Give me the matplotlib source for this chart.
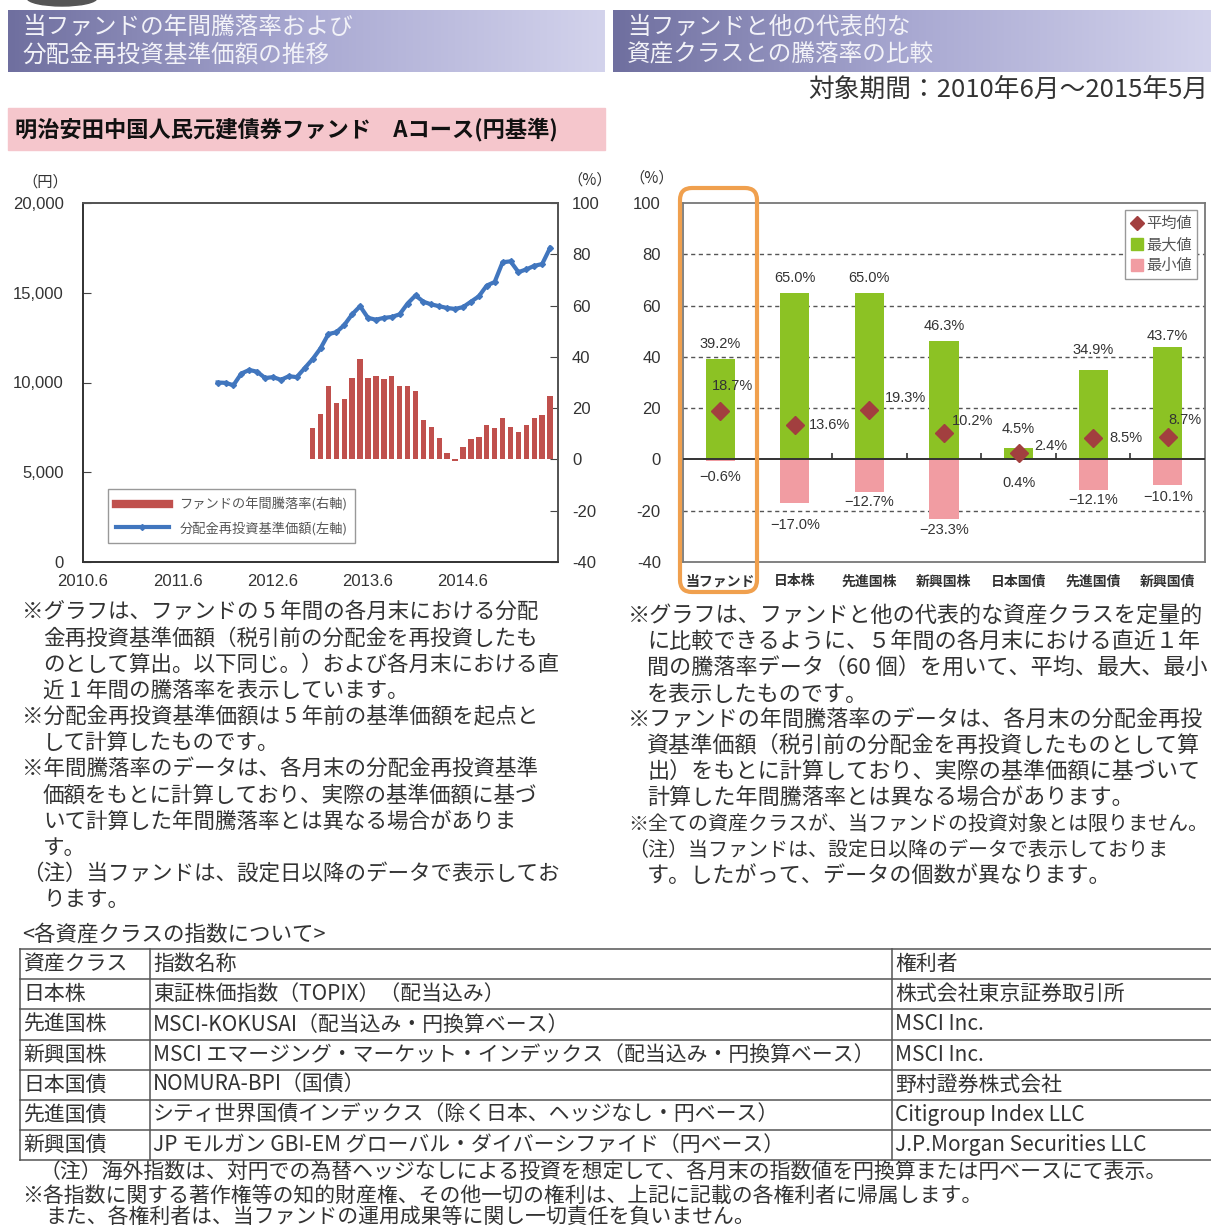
import numpy as np
import matplotlib
matplotlib.use('Agg')
from matplotlib import pyplot as plt
from matplotlib.lines import Line2D
from matplotlib.patches import Rectangle, FancyBboxPatch, Ellipse
from matplotlib.colors import LinearSegmentedColormap

plt.rcParams['font.family'] = ['Noto Sans CJK JP', 'DejaVu Sans']
NUM = ['Liberation Sans', 'Noto Sans CJK JP']

# --- 左チャート: 分配金再投資基準価額(円) 2011.11〜2015.5, 年間騰落率(%) 2012.11〜2015.5
nav_start = '2011.11'
nav_values = [10000, 9980, 9850, 10500, 10700, 10600, 10250, 10300, 10150, 10350,
              10300, 10800, 11300, 11900, 12700, 12800, 13200, 13800, 14250, 13600,
              13500, 13600, 13650, 13800, 14400, 14850, 14500, 14350, 14250, 14150,
              14100, 14200, 14500, 14800, 15400, 15600, 16700, 16750, 16150, 16300,
              16500, 16600, 17500]
ret_start = '2012.11'
ret_values = [12.2, 17.8, 28.5, 22.0, 23.5, 31.6, 39.2, 31.9, 32.4, 31.4,
              32.4, 28.5, 28.5, 26.5, 15.4, 12.8, 8.5, 2.6, -0.6, 5.0,
              8.0, 8.9, 13.3, 12.4, 16.0, 12.8, 10.8, 13.3, 16.0, 17.4, 24.6]
x_tick_labels = ['2010.6', '2011.6', '2012.6', '2013.6', '2014.6']
left_ticks = [0, 5000, 10000, 15000, 20000]
right_ticks = [-40, -20, 0, 20, 40, 60, 80, 100]

# --- 右チャート: 騰落率の比較
categories = ['当ファンド', '日本株', '先進国株', '新興国株', '日本国債', '先進国債', '新興国債']
mean_vals = [18.7, 13.6, 19.3, 10.2, 2.4, 8.5, 8.7]
max_vals = [39.2, 65.0, 65.0, 46.3, 4.5, 34.9, 43.7]
min_vals = [-0.6, -17.0, -12.7, -23.3, 0.4, -12.1, -10.1]

# ラベル位置の微調整(ピクセル)
mean_off = [(12, 25), (35, 0), (36, 12), (29, 12), (32, 7), (33, 0), (17, 17)]
max_off = [15, 15, 15, 15, 19, 20, 11]
min_off = [16, 22, 10, 11, 24, 10, 12]

# --- 表
table_rows = [
    ['資産クラス', '指数名称', '権利者'],
    ['日本株', '東証株価指数（TOPIX）（配当込み）', '株式会社東京証券取引所'],
    ['先進国株', 'MSCI-KOKUSAI（配当込み・円換算ベース）', 'MSCI Inc.'],
    ['新興国株', 'MSCI エマージング・マーケット・インデックス（配当込み・円換算ベース）', 'MSCI Inc.'],
    ['日本国債', 'NOMURA-BPI（国債）', '野村證券株式会社'],
    ['先進国債', 'シティ世界国債インデックス（除く日本、ヘッジなし・円ベース）', 'Citigroup Index LLC'],
    ['新興国債', 'JP モルガン GBI-EM グローバル・ダイバーシファイド（円ベース）', 'J.P.Morgan Securities LLC'],
]

left_notes = [
    '※グラフは、ファンドの 5 年間の各月末における分配',
    '金再投資基準価額（税引前の分配金を再投資したも',
    'のとして算出。以下同じ。）および各月末における直',
    '近 1 年間の騰落率を表示しています。',
    '※分配金再投資基準価額は 5 年前の基準価額を起点と',
    'して計算したものです。',
    '※年間騰落率のデータは、各月末の分配金再投資基準',
    '価額をもとに計算しており、実際の基準価額に基づ',
    'いて計算した年間騰落率とは異なる場合がありま',
    'す。',
    '（注）当ファンドは、設定日以降のデータで表示してお',
    'ります。',
]
right_notes = [
    '※グラフは、ファンドと他の代表的な資産クラスを定量的',
    'に比較できるように、５年間の各月末における直近１年',
    '間の騰落率データ（60 個）を用いて、平均、最大、最小',
    'を表示したものです。',
    '※ファンドの年間騰落率のデータは、各月末の分配金再投',
    '資基準価額（税引前の分配金を再投資したものとして算',
    '出）をもとに計算しており、実際の基準価額に基づいて',
    '計算した年間騰落率とは異なる場合があります。',
    '※全ての資産クラスが、当ファンドの投資対象とは限りません。',
    '（注）当ファンドは、設定日以降のデータで表示しておりま',
    'す。したがって、データの個数が異なります。',
]
footer = [
    '（注）海外指数は、対円での為替ヘッジなしによる投資を想定して、各月末の指数値を円換算または円ベースにて表示。',
    '※各指数に関する著作権等の知的財産権、その他一切の権利は、上記に記載の各権利者に帰属します。',
    'また、各権利者は、当ファンドの運用成果等に関し一切責任を負いません。',
]


def month_index(label):
    y, m = map(int, label.split('.'))
    return (y - 2010) * 12 + m - 6


W, H = 1211, 1230
fig = plt.figure(figsize=(W / 100, H / 100), dpi=100)
fig.patch.set_facecolor('white')


def fbox(x0, y0, x1, y1):
    return [x0 / W, 1 - y1 / H, (x1 - x0) / W, (y1 - y0) / H]


TXT = '#333333'

# ===== 左チャート =====
ax1 = fig.add_axes(fbox(83, 203, 558, 562))
ax2 = ax1.twinx()
ax1.set_zorder(ax2.get_zorder() + 1)
ax1.patch.set_visible(False)

xr = month_index(ret_start) + np.arange(len(ret_values))
ax2.bar(xr, ret_values, width=0.68, color='#c0504d', zorder=2)
xn = month_index(nav_start) + np.arange(len(nav_values))
ax1.plot(xn, nav_values, color='#4176be', lw=3, marker='D', ms=3, zorder=3)

ax1.set_xlim(0, 60)
ax1.set_ylim(0, 20000)
ax2.set_ylim(-40, 100)
ax1.set_xticks([month_index(s) for s in x_tick_labels])
ax1.set_xticklabels(x_tick_labels, fontsize=12, family=NUM, color=TXT)
ax1.set_yticks(left_ticks)
ax1.set_yticklabels(['{:,}'.format(v) for v in left_ticks], fontsize=12, family=NUM, color=TXT)
ax2.set_yticks(right_ticks)
ax2.set_yticklabels([str(v) for v in right_ticks], fontsize=12, family=NUM, color=TXT)
ax1.tick_params(axis='x', length=0, pad=9)
ax1.tick_params(axis='y', direction='in', length=6, pad=14, color='#444')
ax2.tick_params(axis='y', direction='in', length=6, pad=10, color='#444')
for a in (ax1, ax2):
    for s in a.spines.values():
        s.set_color('#555555')
        s.set_linewidth(1.3)
ax1.spines['left'].set_color('#333333')
ax1.spines['bottom'].set_color('#333333')

leg_handles = [Line2D([], [], color='#c0504d', lw=6),
               Line2D([], [], color='#4176be', lw=3, marker='D', ms=3)]
leg1 = ax1.legend(leg_handles, ['ファンドの年間騰落率(右軸)', '分配金再投資基準価額(左軸)'],
                  loc='lower left', bbox_to_anchor=(108 / W, 1 - 543 / H),
                  bbox_transform=fig.transFigure, fontsize=9.5, handlelength=4.0,
                  fancybox=False, edgecolor='#999999', framealpha=1,
                  borderpad=0.6, labelspacing=0.75, borderaxespad=0)
for t in leg1.get_texts():
    t.set_color('#555555')

# ===== 右チャート =====
ax3 = fig.add_axes(fbox(683, 203, 1205, 562))
xc = np.arange(len(categories)) + 0.5
ax3.bar(xc, min_vals, width=0.39, color='#f19ca2', zorder=2)
ax3.bar(xc, max_vals, width=0.39, color='#8cc224', zorder=2)
ax3.plot(xc, mean_vals, 'D', color='#a23f3f', ms=9, zorder=4)
ax3.set_xlim(0, len(categories))
ax3.set_ylim(-40, 100)
for g in [80, 60, 40, 20, -20]:
    ax3.axhline(g, color='#555555', lw=1, ls=(0, (3, 2.5)), zorder=1)
ax3.axhline(0, color='#333333', lw=1.4, zorder=3)
ax3.vlines(np.arange(1, len(categories)), 0, 2.5, color='#333333', lw=1.2, zorder=3)
ax3.set_yticks(right_ticks)
ax3.set_yticklabels([str(v) for v in right_ticks], fontsize=12, family=NUM, color=TXT)
ax3.set_xticks(xc)
ax3.set_xticklabels(categories, fontsize=10, fontweight='bold', color=TXT)
ax3.tick_params(axis='both', length=0)
ax3.tick_params(axis='y', pad=16)
ax3.tick_params(axis='x', pad=9)
for s in ax3.spines.values():
    s.set_color('#777777')
    s.set_linewidth(1.3)

for i in range(len(categories)):
    ax3.annotate('{:.1f}%'.format(max_vals[i]), (xc[i], max_vals[i]),
                 xytext=(0, max_off[i]), textcoords='offset pixels',
                 ha='center', va='center', fontsize=10.5, family=NUM, color=TXT)
    low = min(min_vals[i], 0)
    ax3.annotate('{:.1f}%'.format(min_vals[i]).replace('-', '−'), (xc[i], low),
                 xytext=(0, -min_off[i]), textcoords='offset pixels',
                 ha='center', va='center', fontsize=10.5, family=NUM, color=TXT)
    ax3.annotate('{:.1f}%'.format(mean_vals[i]), (xc[i], mean_vals[i]),
                 xytext=mean_off[i], textcoords='offset pixels',
                 ha='center', va='center', fontsize=10.5, family=NUM, color=TXT, zorder=6)

leg_handles2 = [Line2D([], [], ls='none', marker='D', color='#a23f3f', ms=7),
                Line2D([], [], ls='none', marker='s', color='#8cc224', ms=9),
                Line2D([], [], ls='none', marker='s', color='#f19ca2', ms=9)]
leg2 = ax3.legend(leg_handles2, ['平均値', '最大値', '最小値'], loc='upper right',
                  bbox_to_anchor=(1197 / W, 1 - 210 / H), bbox_transform=fig.transFigure,
                  fontsize=11, handlelength=0.8, handletextpad=0.2, borderpad=0.35,
                  labelspacing=0.25, fancybox=False, edgecolor='#999999',
                  framealpha=1, borderaxespad=0)
leg2.set_zorder(7)
for t in leg2.get_texts():
    t.set_color('#555555')

# ===== 全体レイヤー(見出し・注記・表) =====
ov = fig.add_axes([0, 0, 1, 1])
ov.set_zorder(10)
ov.patch.set_alpha(0)

ov.add_patch(Ellipse((62, -2), 70, 16, color='#555555'))

grad = np.linspace(0, 1, 256).reshape(1, -1)
hdr_cmap = LinearSegmentedColormap.from_list('hdr', ['#6f6f9f', '#a9a9d2', '#d3d3ec'])
for x0, x1, lines in [(8, 605, ['当ファンドの年間騰落率および', '分配金再投資基準価額の推移']),
                      (613, 1211, ['当ファンドと他の代表的な', '資産クラスとの騰落率の比較'])]:
    ov.imshow(grad, cmap=hdr_cmap, extent=(x0, x1, 72, 10), aspect='auto', zorder=1)
    ov.text(x0 + 14, 27, lines[0], fontsize=17, color='#f2f2f8', va='center', zorder=2)
    ov.text(x0 + 14, 55, lines[1], fontsize=17, color='#f2f2f8', va='center', zorder=2)

ov.text(1208, 90, '対象期間：2010年6月～2015年5月', fontsize=18.5, color=TXT,
        ha='right', va='center')

ov.add_patch(Rectangle((8, 108), 597, 42, color='#f5c6cc', zorder=1))
ov.text(15, 129, '明治安田中国人民元建債券ファンド　Aコース(円基準)', fontsize=16,
        fontweight='bold', color='#111111', va='center', zorder=2)

ov.text(45, 182, '（円）', fontsize=11, color=TXT, ha='center', va='center')
ov.text(590, 180, '（%）', fontsize=11, color=TXT, ha='center', va='center')
ov.text(652, 178, '（%）', fontsize=11, color=TXT, ha='center', va='center')

ov.add_patch(FancyBboxPatch((680, 188), 77, 404,
                            boxstyle='round,pad=0,rounding_size=12',
                            fc='none', ec='#f0a04e', lw=3, zorder=5))

for i, s in enumerate(left_notes):
    indent = 22 if s.startswith('※') or s.startswith('（注）') else 43
    ov.text(indent, 612 + i * 26.2, s, fontsize=15.5, color=TXT, va='center')
for i, s in enumerate(right_notes):
    indent = 628 if s.startswith('※') or s.startswith('（注）') else 647
    size = 14.4 if i in (8, 9) else 15.9
    ov.text(indent, 617 + i * 25.9, s, fontsize=size, color=TXT, va='center')

ov.text(22, 935, '<各資産クラスの指数について>', fontsize=15.5, color=TXT, va='center')

row_top, row_h = 949, 30.2
col_x = [20, 150, 892]
for r in range(len(table_rows) + 1):
    ov.plot([20, W], [row_top + r * row_h] * 2, color='#555555', lw=1.1)
for cx in col_x:
    ov.plot([cx, cx], [row_top, row_top + len(table_rows) * row_h], color='#555555', lw=1.1)
for r, row in enumerate(table_rows):
    for c, cell in enumerate(row):
        ov.text(col_x[c] + 3, row_top + (r + 0.5) * row_h, cell, fontsize=15,
                color=TXT, va='center')

ov.text(40, 1172, footer[0], fontsize=15, color=TXT, va='center')
ov.text(22, 1196, footer[1], fontsize=15, color=TXT, va='center')
ov.text(45, 1217, footer[2], fontsize=15, color=TXT, va='center')

ov.set_xlim(0, W)
ov.set_ylim(H, 0)
ov.axis('off')

fig.savefig('out.png', dpi=100)
